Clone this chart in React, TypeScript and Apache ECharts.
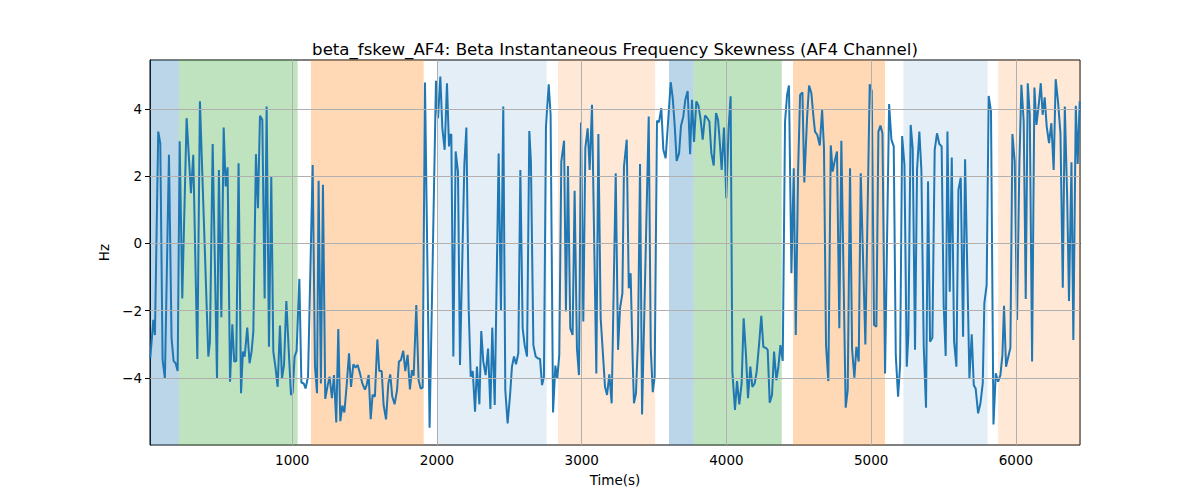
import React, { useEffect, useRef } from "react";
import * as echarts from "echarts";

const timeSec = [
  19, 40, 51, 74, 88, 104, 120, 148, 166, 180, 194, 208, 222, 240, 270, 300, 316, 344, 362, 420,
  431, 450, 480, 493, 510, 526, 540, 553, 570, 586, 599, 613, 629, 646, 659, 671, 689, 705, 719, 731,
  749, 763, 777, 793, 809, 823, 839, 855, 869, 885, 899, 915, 929, 943, 959, 975, 991, 1003, 1016, 1030,
  1049, 1063, 1079, 1092, 1109, 1141, 1157, 1171, 1182, 1198, 1212, 1228, 1245, 1258, 1274, 1288, 1304, 1318, 1332, 1346,
  1360, 1376, 1392, 1406, 1422, 1438, 1452, 1468, 1484, 1502, 1514, 1528, 1542, 1555, 1571, 1588, 1601, 1618, 1631, 1648,
  1664, 1677, 1691, 1707, 1724, 1737, 1751, 1767, 1781, 1797, 1813, 1827, 1839, 1857, 1873, 1887, 1901, 1917, 1949, 1993,
  2007, 2023, 2037, 2053, 2069, 2083, 2090, 2099, 2113, 2129, 2145, 2159, 2189, 2203, 2219, 2233, 2247, 2263, 2276, 2293,
  2306, 2320, 2336, 2353, 2369, 2382, 2399, 2426, 2442, 2458, 2472, 2488, 2505, 2518, 2532, 2546, 2562, 2576, 2592, 2606,
  2622, 2638, 2649, 2666, 2682, 2696, 2712, 2726, 2739, 2753, 2772, 2785, 2802, 2818, 2831, 2845, 2859, 2878, 2891, 2905,
  2921, 2937, 2951, 2967, 2981, 2995, 3011, 3025, 3041, 3055, 3071, 3101, 3115, 3131, 3147, 3161, 3175, 3191, 3207, 3235,
  3251, 3265, 3281, 3292, 3311, 3325, 3338, 3352, 3361, 3375, 3389, 3403, 3417, 3463, 3477, 3491, 3504, 3520, 3534, 3550,
  3564, 3580, 3597, 3615, 3629, 3643, 3656, 3673, 3686, 3702, 3716, 3732, 3749, 3762, 3776, 3792, 3806, 3822, 3836, 3852,
  3868, 3882, 3896, 3912, 3928, 3942, 3952, 3967, 3983, 3999, 4015, 4029, 4041, 4059, 4073, 4089, 4105, 4119, 4135, 4149,
  4165, 4179, 4195, 4209, 4225, 4241, 4255, 4271, 4285, 4299, 4315, 4329, 4345, 4359, 4373, 4389, 4405, 4419, 4432, 4449,
  4465, 4479, 4495, 4509, 4525, 4538, 4557, 4571, 4587, 4601, 4612, 4628, 4645, 4661, 4674, 4688, 4704, 4721, 4734, 4750,
  4764, 4780, 4794, 4824, 4838, 4854, 4868, 4884, 4898, 4914, 4928, 4960, 4990, 5004, 5020, 5036, 5050, 5064, 5078, 5096,
  5124, 5140, 5156, 5170, 5186, 5200, 5214, 5230, 5246, 5257, 5273, 5287, 5303, 5317, 5333, 5347, 5363, 5379, 5393, 5407,
  5423, 5439, 5455, 5471, 5487, 5501, 5515, 5527, 5543, 5557, 5573, 5589, 5603, 5619, 5635, 5649, 5679, 5695, 5709, 5722,
  5739, 5755, 5771, 5782, 5798, 5812, 5828, 5845, 5861, 5877, 5893, 5907, 5918, 5932, 5948, 5962, 5976, 5992, 6008, 6024,
  6038, 6054, 6068, 6082, 6096, 6112, 6128, 6142, 6158, 6172, 6185, 6199, 6213, 6229, 6245, 6261, 6275, 6291, 6308, 6324,
  6338, 6354, 6367, 6384, 6397, 6414, 6427, 6441,
];

const skewHz = [
  -3.42, -2.28, -2.73, 3.32, 2.98, -3.47, -4.02, 2.63, -2.83, -3.5, -3.57, -3.8, 3.03, -1.64, 3.72, 1.49, 2.63, -3.44, 4.22, -3.37,
  -2.93, 2.95, -4.04, 2.18, -2.2, 3.44, 1.69, 2.26, -4.12, -2.41, -3.52, -3.5, 2.38, -4.46, -3.22, -3.37, -2.51, -3.57, -3.22, -2.63,
  2.65, 1.04, 3.79, 3.67, -1.64, 4.07, -3.08, 1.98, -3.22, -3.72, -4.27, -2.45, -4.02, -3.62, -1.72, -3.13, -4.51, -4.44, -3.37, -3.2,
  -1.06, -4.14, -4.17, -4.32, -3.97, 2.33, -3.67, -4.46, 1.86, -4.17, 1.74, -4.63, -4.22, -3.97, -4.61, -3.92, -5.33, -2.55, -5.29, -4.83,
  -5.03, -4.22, -3.27, -4.27, -3.6, -3.7, -3.62, -3.87, -4.17, -4.35, -4.22, -3.92, -5.23, -4.51, -4.56, -2.86, -3.8, -3.8, -4.81, -5.24,
  -4.17, -3.9, -4.56, -4.79, -4.37, -3.52, -3.47, -3.2, -3.8, -3.32, -4.35, -3.77, -3.94, -1.84, -4.07, -4.32, -4.29, 4.78, -5.49, 4.83,
  3.72, 4.96, 3.42, 2.78, 4.76, 2.88, 3.22, 3.24, -3.37, 2.73, 2.13, -3.62, 2.33, 3.44, -1.93, -3.97, -3.8, -5.01, -3.67, -4.79,
  -2.61, -3.52, -3.92, -3.13, -4.93, -2.51, -4.81, 2.67, -2.01, 4.07, -4.37, -5.36, -4.51, -3.67, -3.37, -3.6, -3.27, 2.18, -2.53, -3.03,
  -3.37, 3.34, 2.43, -3.03, -3.37, -3.42, -3.44, -4.22, -3.97, 3.47, 4.73, 3.82, -5.03, -3.64, -4.02, -3.32, 2.43, 3.05, -2.03, 2.3,
  -2.53, -2.73, 1.56, -3.13, -3.92, 3.59, -2.33, 2.83, 3.42, 2.18, 4.12, -3.87, 3.25, -2.23, -3.32, -4.27, -4.51, -3.9, -4.76, 2.08,
  -3.17, -1.93, -1.49, 2.28, 3.08, -1.34, -0.89, -3.47, -4.76, -4.46, -2.83, 2.36, -5.09, 3.77, -3.13, -4.43, -3.97, 3.64, 3.6, 4.02,
  2.78, 2.53, 3.62, 4.79, 4.32, 3.47, 2.45, 2.68, 3.49, 3.77, 4.27, 4.53, 2.65, 4.27, 3.01, 4.22, 4.1, 3.67, 3.08, 3.8,
  3.72, 3.62, 2.68, 2.31, 3.87, 3.67, 3.13, 2.18, 3.44, 1.34, 3.42, 4.37, -3.82, -4.96, -4.1, -4.79, -4.17, -2.23, -3.32, -4.61,
  -3.67, -4.27, -4.17, -3.82, -3.03, -2.16, -3.08, -3.11, -3.17, -4.74, -4.51, -3.22, -4.07, -3.67, -3.03, -3.5, 3.62, 4.41, 4.69, -0.89,
  2.23, -2.73, 2.13, 4.41, 4.49, 1.81, 3.72, 4.69, 4.46, 3.77, 3.32, 3.22, 2.91, 3.97, 2.83, -3.03, -4.1, 2.91, 2.13, 2.48,
  2.73, -2.53, 3.05, -4.89, -4.37, 2.23, -3.13, -4.0, -3.08, -3.52, 2.08, -3.01, 4.73, 4.53, -2.43, -2.48, 3.32, 3.5, 3.27, -3.87,
  4.14, 3.08, 2.88, -3.32, -4.56, -3.62, 3.19, 2.33, -3.67, -2.73, 3.52, 2.83, -3.17, 2.18, 3.32, 2.18, -3.03, -4.89, 1.84, -2.93,
  -2.81, 2.78, 3.27, 2.95, 2.88, -1.84, -3.35, 3.32, -1.44, 2.55, -2.93, -3.67, 1.59, 1.95, -2.78, 2.5, -4.02, -2.71, -4.22, -4.32,
  -5.06, -4.76, -4.17, -1.79, -1.24, 4.38, 3.92, -5.39, -3.87, -4.12, -3.92, -3.32, -1.86, -3.67, -3.37, -3.11, 3.25, 2.43, -2.28, 2.33,
  4.71, 3.62, -1.66, 4.76, 3.82, -3.52, 4.63, 3.52, 4.12, 4.76, 3.82, 4.34, 3.47, 2.98, 3.57, 2.18, 4.88, 4.22, 3.27, -1.32,
  4.07, 1.44, -1.72, 2.41, -2.88, 4.09, 2.36, 4.22,
];

const spanStart = [17, 217, 1129, 2002, 2836, 3603, 3774, 4460, 5223, 5877];
const spanEnd = [217, 1037, 1908, 2758, 3507, 3774, 4382, 5096, 5805, 6443];
const spanColor = [
  "rgba(31,119,180,0.3)",
  "rgba(44,160,44,0.3)",
  "rgba(255,127,14,0.3)",
  "rgba(31,119,180,0.12)",
  "rgba(255,127,14,0.17)",
  "rgba(31,119,180,0.3)",
  "rgba(44,160,44,0.3)",
  "rgba(255,127,14,0.3)",
  "rgba(31,119,180,0.12)",
  "rgba(255,127,14,0.17)",
];

const xTicks = [1000, 2000, 3000, 4000, 5000, 6000];
const yTicks = [-4, -2, 0, 2, 4];

const TITLE = "beta_fskew_AF4: Beta Instantaneous Frequency Skewness (AF4 Channel)";
const FONT = "DejaVu Sans";

export default function App() {
  const ref = useRef<HTMLDivElement>(null);

  useEffect(() => {
    if (!ref.current) return;
    const chart = echarts.init(ref.current, undefined, { renderer: "svg" });
    const lineData = timeSec.map((t, i) => [t, skewHz[i]]);
    const gridLineStyle = { color: "#b0b0b0", width: 1, type: "solid" as const };
    chart.setOption({
      animation: false,
      backgroundColor: "#ffffff",
      title: {
        text: TITLE,
        left: 610,
        textAlign: "center",
        top: 36,
        textStyle: { fontFamily: FONT, fontSize: 16.6, fontWeight: "normal", color: "#000" },
      },
      grid: {
        left: 150,
        right: 120,
        top: 60,
        bottom: 55,
        show: true,
        borderColor: "#000",
        borderWidth: 1,
        backgroundColor: "transparent",
      },
      xAxis: {
        type: "value",
        min: 17,
        max: 6443,
        name: "Time(s)",
        nameLocation: "middle",
        nameGap: 28,
        nameTextStyle: { fontFamily: FONT, fontSize: 13.5, color: "#000" },
        axisLine: { show: true, lineStyle: { color: "#000", width: 1 } },
        axisTick: { show: true, length: 5, lineStyle: { color: "#000" }, customValues: xTicks },
        axisLabel: {
          customValues: xTicks,
          fontFamily: FONT,
          fontSize: 13.5,
          color: "#000",
          margin: 8,
          formatter: (v: number) => String(v),
        },
        splitLine: { show: false },
      },
      yAxis: {
        type: "value",
        min: -6,
        max: 5.45,
        interval: 2,
        name: "Hz",
        nameLocation: "middle",
        nameGap: 32,
        nameRotate: 90,
        nameTextStyle: { fontFamily: FONT, fontSize: 13.5, color: "#000" },
        axisLine: { show: true, lineStyle: { color: "#000", width: 1 } },
        axisTick: { show: true, length: 5, lineStyle: { color: "#000" } },
        axisLabel: {
          fontFamily: FONT,
          fontSize: 13.5,
          color: "#000",
          margin: 8,
          showMinLabel: false,
          showMaxLabel: false,
          formatter: (v: number) => String(v).replace("-", "\u2212"),
        },
        splitLine: { show: false },
      },
      series: [
        {
          type: "line",
          data: [],
          z: 1,
          silent: true,
          markArea: {
            silent: true,
            data: spanStart.map((s, i) => [
              { xAxis: s, itemStyle: { color: spanColor[i] } },
              { xAxis: spanEnd[i] },
            ]),
          },
        },
        {
          type: "line",
          data: [],
          z: 2,
          silent: true,
          markLine: {
            silent: true,
            symbol: ["none", "none"],
            label: { show: false },
            lineStyle: gridLineStyle,
            data: [
              ...xTicks.map((v) => ({ xAxis: v })),
              ...yTicks.map((v) => ({ yAxis: v })),
            ],
          },
        },
        {
          type: "line",
          data: lineData,
          z: 3,
          showSymbol: false,
          symbol: "none",
          lineStyle: { color: "#1f77b4", width: 2 },
          itemStyle: { color: "#1f77b4" },
        },
      ],
    });
    return () => chart.dispose();
  }, []);

  return (
    <div
      ref={ref}
      style={{ position: "fixed", left: 0, top: 0, width: 1200, height: 500, background: "#fff" }}
    />
  );
}
